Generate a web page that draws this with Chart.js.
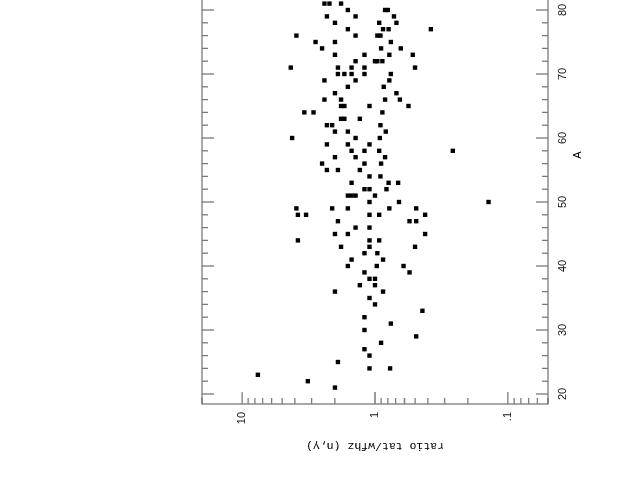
<!DOCTYPE html>
<html>
<head>
<meta charset="utf-8">
<script src="https://cdn.jsdelivr.net/npm/chart.js@4/dist/chart.umd.min.js"></script>
<style>
  html, body { margin: 0; padding: 0; background: #fff; overflow: hidden; width: 635px; height: 491px; }
  /* the plot is drawn upright and then turned a quarter turn to the left */
  #wrap { position: absolute; left: 0; top: 0; width: 600px; height: 635px;
          transform-origin: 0 0; transform: translate(0, 491px) rotate(-90deg); }
</style>
</head>
<body>
<div id="wrap"><canvas id="ratioChart" width="600" height="635"></canvas></div>
<script>
// mass number A of each point and its ratio tat/wfhz (n,gamma)
const massA = [
  81, 81, 81, 80, 80, 80, 79, 79, 79, 78, 78, 78, 77, 77, 77, 77,
  76, 76, 76, 76, 75, 75, 75, 74, 74, 74, 73, 73, 73, 73, 72, 72, 72, 72,
  71, 71, 71, 71, 71, 70, 70, 70, 70, 70, 69, 69, 69, 68, 68, 67, 67,
  66, 66, 66, 66, 65, 65, 65, 65, 64, 64, 64, 63, 63, 63, 62, 62, 62,
  61, 61, 61, 60, 60, 60, 59, 59, 59, 58, 58, 58, 58, 57, 57, 57,
  56, 56, 56, 55, 55, 55, 54, 54, 53, 53, 53, 52, 52, 52, 51, 51, 51, 51,
  50, 50, 50, 49, 49, 49, 49, 49, 48, 48, 48, 48, 48, 47, 47, 47, 46, 46,
  45, 45, 45, 44, 44, 44, 43, 43, 43, 42, 42, 41, 41, 40, 40, 40, 39, 39,
  38, 38, 37, 37, 36, 36, 35, 34, 33, 32, 31, 30, 29, 28, 27, 26, 25,
  24, 24, 23, 22, 21
];
const ratio = [
  2.40, 2.20, 1.80, 1.60, 0.84, 0.80, 2.30, 1.40, 0.72, 2.00, 0.93, 0.69, 1.60, 0.87, 0.79, 0.38,
  3.90, 1.40, 0.96, 0.91, 2.80, 2.00, 0.76, 2.50, 0.90, 0.64, 2.00, 1.20, 0.78, 0.52, 1.40, 1.00, 0.96, 0.88,
  4.30, 1.90, 1.50, 1.20, 0.50, 1.90, 1.70, 1.50, 1.20, 0.76, 2.40, 1.40, 0.78, 1.60, 0.86, 2.00, 0.69,
  2.40, 1.80, 0.84, 0.65, 1.80, 1.70, 1.10, 0.56, 3.40, 2.90, 0.88, 1.80, 1.70, 1.30, 2.30, 2.10, 0.91,
  2.00, 1.60, 0.83, 4.20, 1.40, 0.92, 2.30, 1.60, 1.10, 1.50, 1.20, 0.93, 0.26, 2.00, 1.40, 0.84,
  2.50, 1.20, 0.90, 2.30, 1.90, 1.30, 1.10, 0.91, 1.50, 0.79, 0.67, 1.20, 1.10, 0.82, 1.60, 1.50, 1.40, 1.00,
  1.10, 0.66, 0.14, 3.90, 2.10, 1.60, 0.78, 0.49, 3.80, 3.30, 1.10, 0.93, 0.42, 1.90, 0.55, 0.49, 1.40, 1.10,
  2.00, 1.60, 0.42, 3.80, 1.10, 0.93, 1.80, 1.10, 0.50, 1.20, 0.96, 1.50, 0.87, 1.60, 0.97, 0.61, 1.20, 0.55,
  1.10, 1.00, 1.30, 1.00, 2.00, 0.87, 1.10, 1.00, 0.44, 1.20, 0.76, 1.20, 0.49, 0.90, 1.20, 1.10, 1.90,
  1.10, 0.77, 7.60, 3.20, 2.00
];
const aTicks = [20, 30, 40, 50, 60, 70, 80, 90];
const ratioTicks = [0.1, 1, 10];

Chart.defaults.font.family = "'Liberation Sans', Arial, sans-serif";
Chart.defaults.color = '#000';

// box round the plot with inward ticks on every side
const framePlugin = {
  id: 'frame',
  beforeDatasetsDraw(chart) {
    const { ctx, chartArea: a, scales: { x, y } } = chart;
    ctx.save();
    ctx.strokeStyle = '#7a7a7a';
    ctx.lineWidth = 1.3;
    ctx.strokeRect(a.left, a.top, a.right - a.left, a.bottom - a.top);
    ctx.beginPath();
    for (let v = 20; v <= x.max; v += 2) {
      const px = x.getPixelForValue(v);
      const len = v % 10 === 0 ? 12 : 6;
      ctx.moveTo(px, a.bottom); ctx.lineTo(px, a.bottom - len);
      ctx.moveTo(px, a.top); ctx.lineTo(px, a.top + len);
    }
    for (const dec of [0.01, 0.1, 1, 10]) {
      for (let m = 1; m <= 9; m++) {
        const v = dec * m;
        if (v < y.min * 0.999 || v > y.max * 1.001) continue;
        const py = y.getPixelForValue(v);
        const len = m === 1 ? 12 : 6;
        ctx.moveTo(a.left, py); ctx.lineTo(a.left + len, py);
        ctx.moveTo(a.right, py); ctx.lineTo(a.right - len, py);
      }
    }
    ctx.stroke();
    ctx.restore();
  }
};

new Chart(document.getElementById('ratioChart'), {
  type: 'scatter',
  data: {
    datasets: [{
      data: massA.map((a, i) => ({ x: a, y: ratio[i] })),
      pointStyle: 'rect',
      radius: 3.1,
      backgroundColor: '#000',
      borderColor: '#000',
      borderWidth: 0
    }]
  },
  options: {
    responsive: false,
    animation: false,
    layout: { padding: { left: 0, right: 15, top: 202, bottom: 0 } },
    plugins: { legend: { display: false }, tooltip: { enabled: false } },
    scales: {
      x: {
        type: 'linear',
        min: 18.4375,
        max: 96.25,
        afterBuildTicks: s => { s.ticks = aTicks.map(v => ({ value: v })); },
        afterFit: s => { s.height = 87; },
        grid: { display: false, drawTicks: false },
        border: { display: false },
        ticks: { padding: 8, maxRotation: 0, font: { size: 11 }, color: '#111' },
        title: {
          display: true, text: 'A', color: '#000',
          font: { size: 11 }, padding: { top: 0, bottom: 50 }
        }
      },
      y: {
        type: 'logarithmic',
        min: 0.05,
        max: 20,
        afterBuildTicks: s => { s.ticks = ratioTicks.map(v => ({ value: v })); },
        afterFit: s => { s.width = 87; },
        grid: { display: false, drawTicks: false },
        border: { display: false },
        ticks: {
          padding: 8, font: { size: 11 }, color: '#111',
          callback: v => (v === 0.1 ? '.1' : String(v))
        },
        title: {
          display: true, text: 'ratio tat/wfhz (n,\u03b3)', color: '#000',
          font: { family: "'Liberation Mono', 'Courier New', monospace", size: 11.5 },
          padding: { top: 38, bottom: 0 }
        }
      }
    }
  },
  plugins: [framePlugin]
});
</script>
</body>
</html>
